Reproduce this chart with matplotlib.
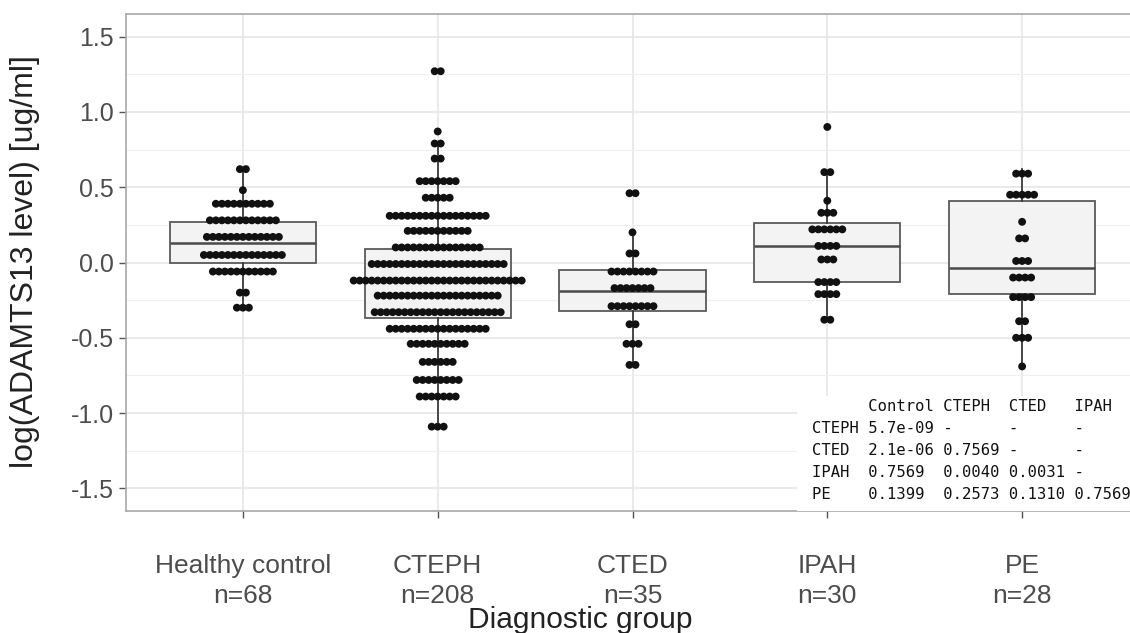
import numpy as np
import matplotlib.pyplot as plt
from matplotlib.patches import Rectangle

# groups and sample sizes
groups = ['Healthy control', 'CTEPH', 'CTED', 'IPAH', 'PE']
n_per_group = [68, 208, 35, 30, 28]

# dot-plot rows (bin level, number of dots)
hc_levels = [0.62, 0.48, 0.39, 0.28, 0.17, 0.05, -0.06, -0.20, -0.30]
hc_counts = [2, 1, 10, 12, 13, 14, 11, 2, 3]

cteph_levels = [1.27, 0.87, 0.79, 0.69, 0.54, 0.43, 0.31, 0.21, 0.10, -0.01,
                -0.12, -0.22, -0.33, -0.44, -0.54, -0.66, -0.78, -0.89, -1.09]
cteph_counts = [2, 1, 2, 2, 7, 5, 17, 11, 15, 23, 29, 21, 22, 17, 10, 6, 8, 7, 3]

cted_levels = [0.46, 0.20, 0.06, -0.06, -0.17, -0.29, -0.41, -0.54, -0.68]
cted_counts = [2, 1, 2, 8, 7, 8, 2, 3, 2]

ipah_levels = [0.90, 0.60, 0.41, 0.33, 0.22, 0.11, 0.02, -0.13, -0.21, -0.38]
ipah_counts = [1, 2, 1, 3, 6, 4, 3, 4, 4, 2]

pe_levels = [0.59, 0.45, 0.27, 0.16, 0.01, -0.10, -0.23, -0.39, -0.50, -0.69]
pe_counts = [3, 5, 1, 2, 3, 4, 4, 2, 3, 1]

# box statistics per group
whisker_low = [-0.30, -1.06, -0.68, -0.38, -0.69]
q1 = [0.00, -0.37, -0.32, -0.13, -0.21]
median = [0.13, -0.12, -0.19, 0.11, -0.035]
q3 = [0.27, 0.09, -0.05, 0.26, 0.41]
whisker_high = [0.62, 0.78, 0.20, 0.60, 0.62]

# pairwise p-value table
table_lines = [
    '      Control CTEPH  CTED   IPAH',
    'CTEPH 5.7e-09 -      -      -',
    'CTED  2.1e-06 0.7569 -      -',
    'IPAH  0.7569  0.0040 0.0031 -',
    'PE    0.1399  0.2573 0.1310 0.7569',
]

plt.rcParams['font.family'] = ['Liberation Sans', 'DejaVu Sans']

fig = plt.figure(figsize=(11.3, 6.33), dpi=100)
ax = fig.add_axes([126 / 1130, 122 / 633, 1013 / 1130, 497 / 633])

positions = np.arange(len(groups))

# boxes
stats = []
for i in range(len(groups)):
    stats.append({'whislo': whisker_low[i], 'q1': q1[i], 'med': median[i],
                  'q3': q3[i], 'whishi': whisker_high[i]})
ax.bxp(stats, positions=positions, widths=0.75, showfliers=False, showcaps=False,
       patch_artist=True,
       boxprops=dict(facecolor='#f3f3f3', edgecolor='#5a5a5a', linewidth=1.3),
       medianprops=dict(color='#4a4a4a', linewidth=1.8),
       whiskerprops=dict(color='#3a3a3a', linewidth=1.3), zorder=2)

# dots, stacked centred on each group
dot_step = 0.0308
all_levels = [hc_levels, cteph_levels, cted_levels, ipah_levels, pe_levels]
all_counts = [hc_counts, cteph_counts, cted_counts, ipah_counts, pe_counts]
for pos, levels, counts in zip(positions, all_levels, all_counts):
    for lev, cnt in zip(levels, counts):
        xs = pos + (np.arange(cnt) - (cnt - 1) / 2) * dot_step
        ax.scatter(xs, np.full(cnt, lev), s=32, color='#111111',
                   edgecolors='none', zorder=3)

# axes styling
ax.set_xlim(-0.6, 4.6)
ax.set_ylim(-1.65, 1.65)
ax.set_yticks(np.arange(-1.5, 1.51, 0.5))
ax.set_yticks(np.arange(-1.25, 1.51, 0.5), minor=True)
ax.set_yticklabels([f'{v:.1f}' for v in np.arange(-1.5, 1.51, 0.5)])
ax.set_xticks(positions)
ax.set_xticklabels([f'{g}\nn={n}' for g, n in zip(groups, n_per_group)],
                   linespacing=1.3)
ax.tick_params(axis='both', which='major', labelsize=18, labelcolor='#4d4d4d',
               color='#555555', length=5, width=1)
ax.tick_params(axis='x', labelsize=19, pad=26)
ax.tick_params(axis='y', which='minor', length=0)
ax.grid(True, which='major', color='#e4e4e4', linewidth=1.1, zorder=0)
ax.grid(True, which='minor', axis='y', color='#efefef', linewidth=0.8, zorder=0)
ax.set_axisbelow(True)
for sp in ax.spines.values():
    sp.set_color('#a8a8a8')
    sp.set_linewidth(1.2)

# p-value table with white background
ax.add_patch(Rectangle((2.845, -1.65), 2.0, 0.765, facecolor='white',
                       edgecolor='none', zorder=4))
for k, line in enumerate(table_lines):
    ax.text(2.92, -0.955 - k * 0.146, line, family='DejaVu Sans Mono',
            fontsize=11.2, color='#111111', va='center', ha='left', zorder=5)

fig.text(25 / 1130, 1 - 262 / 633, 'log(ADAMTS13 level) [ug/ml]', rotation=90,
         fontsize=23, color='#222222', ha='center', va='center')
fig.text(580 / 1130, 1 - 628 / 633, 'Diagnostic group', fontsize=21.5,
         color='#222222', ha='center', va='baseline')

fig.savefig('out.png', dpi=100)
